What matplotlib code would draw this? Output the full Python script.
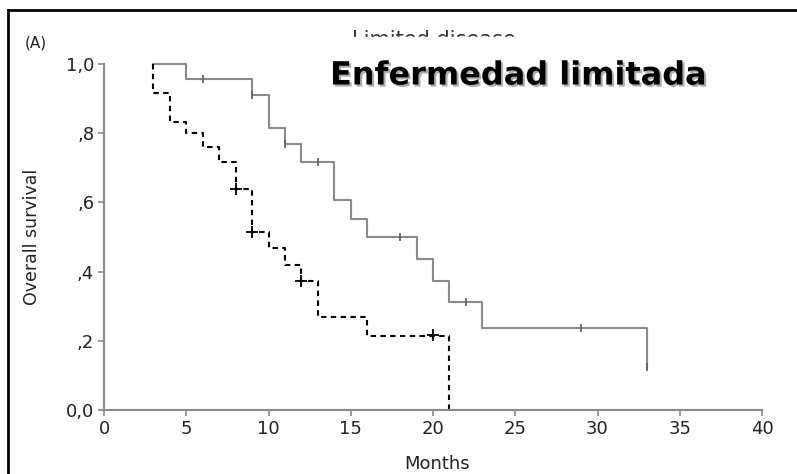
import numpy as np
import matplotlib
matplotlib.use("Agg")
import matplotlib.pyplot as plt
import matplotlib.patheffects as pe
from matplotlib.lines import Line2D
from matplotlib.patches import Rectangle

# solid curve (grey)
t_solid = [3, 5, 9, 10, 11, 12, 14, 15, 16, 19, 20, 21, 23, 33]
s_solid = [1.0, 0.957, 0.91, 0.815, 0.77, 0.717, 0.607, 0.552, 0.50, 0.436, 0.373, 0.312, 0.237, 0.124]
cens_solid_t = [6, 9, 11, 13, 18, 22, 29, 33]
cens_solid_s = [0.957, 0.91, 0.77, 0.717, 0.50, 0.312, 0.237, 0.124]

# dashed curve (black)
t_dash = [3, 3, 4, 5, 6, 7, 8, 9, 10, 11, 12, 13, 16, 21]
s_dash = [1.0, 0.917, 0.833, 0.80, 0.76, 0.717, 0.64, 0.514, 0.468, 0.42, 0.373, 0.27, 0.214, 0.0]
cens_dash_t = [8, 9, 12, 20]
cens_dash_s = [0.64, 0.514, 0.373, 0.217]

xticks = [0, 5, 10, 15, 20, 25, 30, 35, 40]
yticks = [0.0, 0.2, 0.4, 0.6, 0.8, 1.0]
ylabels = ["0,0", ",2", ",4", ",6", ",8", "1,0"]

W, H = 797, 474
fig = plt.figure(figsize=(W / 100, H / 100), dpi=100)

def fx(px):
    return px / W

def fy(py):
    return 1 - py / H

# axes box in pixels
x0, x1, y0, y1 = 104, 762, 410, 64
ax = fig.add_axes([fx(x0), fy(y0), fx(x1) - fx(x0), fy(y1) - fy(y0)])
grey = "#8a8a8a"
ax.step(t_solid, s_solid, where="post", color=grey, lw=1.5, clip_on=False)
ax.plot(cens_solid_t, cens_solid_s, ls="none", marker="|", ms=6, mew=1.3,
        color="#666666", clip_on=False)
ax.step(t_dash, s_dash, where="post", color="black", lw=1.5,
        dashes=(2.6, 2.1), clip_on=False)
ax.plot(cens_dash_t, cens_dash_s, ls="none", marker="+", ms=8, mew=1.3,
        color="black", clip_on=False)

ax.set_xlim(0, 40)
ax.set_ylim(0, 1)
ax.set_xticks(xticks)
ax.set_yticks(yticks)
ax.set_yticklabels(ylabels)
for s in ["top", "right"]:
    ax.spines[s].set_visible(False)
for s in ["left", "bottom"]:
    ax.spines[s].set_color(grey)
    ax.spines[s].set_linewidth(1.5)
ax.tick_params(length=4, width=1.2, color=grey, labelsize=13, labelcolor="#222222", pad=3)
ax.set_xlabel("Months", fontsize=13, color="#222222")
ax.xaxis.set_label_coords((437 - x0) / (x1 - x0), (y0 - 455) / (y0 - y1))
ax.set_ylabel("Overall survival", fontsize=12.5, color="#222222")
ax.yaxis.set_label_coords((41 - x0) / (x1 - x0), 0.5)

fig.text(fx(25), fy(43), "(A)", fontsize=11, color="#222222", va="center")
fig.text(fx(434), fy(40), "Limited disease", fontsize=15, color="#333333",
         ha="center", va="center")
fig.add_artist(Rectangle((fx(322), fy(97)), fx(725) - fx(322), fy(37) - fy(97),
                         transform=fig.transFigure, color="white", zorder=4))
fig.text(fx(330), fy(76), "Enfermedad limitada", fontsize=23, fontweight="bold",
         color="black", va="center", ha="left", zorder=5,
         path_effects=[pe.withSimplePatchShadow(offset=(1.5, -1.5),
                                                shadow_rgbFace="#999999", alpha=0.8)])

# page border (left and top)
fig.add_artist(Line2D([fx(8), fx(8)], [0, fy(10)], color="black", lw=2))
fig.add_artist(Line2D([fx(8), 1], [fy(10), fy(10)], color="black", lw=2))

fig.savefig("out.png", dpi=100)
